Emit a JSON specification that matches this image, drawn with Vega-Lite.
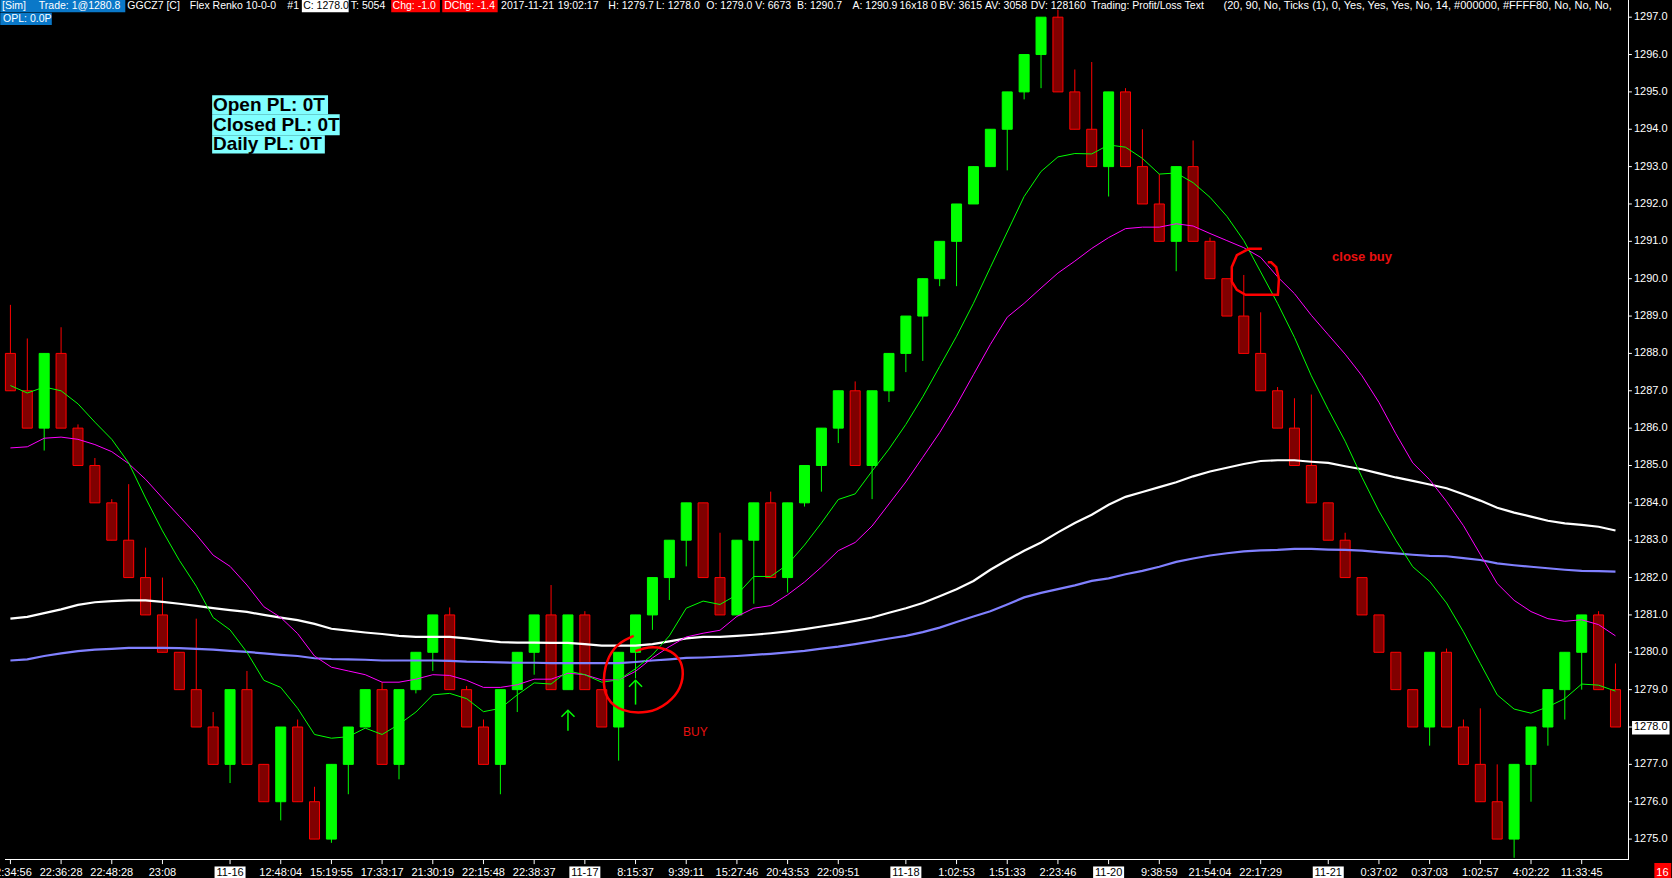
{
"$schema":"https://vega.github.io/schema/vega-lite/v6.json",
"width":1634,"height":860,
"autosize":{"type":"none"},
"padding":{"left":0,"top":0,"right":38,"bottom":18},
"background":"#000000",
"config":{"view":{"stroke":null},"font":"Liberation Sans"},
"datasets":{
"bars":[
{"i":0,"o":1288,"c":1287,"h":1289.3,"l":1287,"g":1287.14,"m":1285.47,"w":1280.9,"b":1279.78},
{"i":1,"o":1287,"c":1286,"h":1288.4,"l":1286,"g":1286.94,"m":1285.5,"w":1280.95,"b":1279.81},
{"i":2,"o":1286,"c":1288,"h":1288,"l":1285.4,"g":1287.1,"m":1285.73,"w":1281.05,"b":1279.9},
{"i":3,"o":1288,"c":1286,"h":1288.7,"l":1286,"g":1287.0,"m":1285.76,"w":1281.15,"b":1279.97},
{"i":4,"o":1286,"c":1285,"h":1286.1,"l":1285,"g":1286.65,"m":1285.7,"w":1281.27,"b":1280.03},
{"i":5,"o":1285,"c":1284,"h":1285.2,"l":1284,"g":1286.16,"m":1285.56,"w":1281.34,"b":1280.07},
{"i":6,"o":1284,"c":1283,"h":1284.1,"l":1283,"g":1285.7,"m":1285.37,"w":1281.37,"b":1280.09},
{"i":7,"o":1283,"c":1282,"h":1284.5,"l":1282,"g":1285.07,"m":1285.05,"w":1281.39,"b":1280.12},
{"i":8,"o":1282,"c":1281,"h":1282.8,"l":1281,"g":1284.13,"m":1284.63,"w":1281.39,"b":1280.12},
{"i":9,"o":1281,"c":1280,"h":1282,"l":1280,"g":1283.25,"m":1284.13,"w":1281.35,"b":1280.12},
{"i":10,"o":1280,"c":1279,"h":1280,"l":1279,"g":1282.46,"m":1283.64,"w":1281.3,"b":1280.11},
{"i":11,"o":1279,"c":1278,"h":1280.9,"l":1278,"g":1281.77,"m":1283.15,"w":1281.24,"b":1280.09},
{"i":12,"o":1278,"c":1277,"h":1278.4,"l":1277,"g":1280.93,"m":1282.6,"w":1281.18,"b":1280.07},
{"i":13,"o":1277,"c":1279,"h":1279,"l":1276.5,"g":1280.6,"m":1282.3,"w":1281.13,"b":1280.04},
{"i":14,"o":1279,"c":1277,"h":1279.5,"l":1277,"g":1280.0,"m":1281.8,"w":1281.08,"b":1280.01},
{"i":15,"o":1277,"c":1276,"h":1277,"l":1276,"g":1279.25,"m":1281.22,"w":1281.0,"b":1279.97},
{"i":16,"o":1276,"c":1278,"h":1278,"l":1275.5,"g":1279.06,"m":1280.93,"w":1280.93,"b":1279.93},
{"i":17,"o":1278,"c":1276,"h":1278.2,"l":1276,"g":1278.5,"m":1280.5,"w":1280.86,"b":1279.9},
{"i":18,"o":1276,"c":1275,"h":1276.4,"l":1275,"g":1277.8,"m":1279.9,"w":1280.76,"b":1279.84},
{"i":19,"o":1275,"c":1277,"h":1277,"l":1274.9,"g":1277.7,"m":1279.6,"w":1280.63,"b":1279.82},
{"i":20,"o":1277,"c":1278,"h":1278,"l":1276.2,"g":1277.74,"m":1279.5,"w":1280.58,"b":1279.81},
{"i":21,"o":1278,"c":1279,"h":1279,"l":1278,"g":1277.97,"m":1279.4,"w":1280.53,"b":1279.8},
{"i":22,"o":1279,"c":1277,"h":1279.2,"l":1277,"g":1277.8,"m":1279.2,"w":1280.49,"b":1279.78},
{"i":23,"o":1277,"c":1279,"h":1279,"l":1276.6,"g":1278.07,"m":1279.2,"w":1280.44,"b":1279.78},
{"i":24,"o":1279,"c":1280,"h":1280,"l":1278.9,"g":1278.4,"m":1279.28,"w":1280.41,"b":1279.78},
{"i":25,"o":1280,"c":1281,"h":1281,"l":1279.5,"g":1278.86,"m":1279.4,"w":1280.41,"b":1279.78},
{"i":26,"o":1281,"c":1279,"h":1281.2,"l":1279,"g":1278.9,"m":1279.38,"w":1280.41,"b":1279.77},
{"i":27,"o":1279,"c":1278,"h":1279.1,"l":1278,"g":1278.76,"m":1279.25,"w":1280.37,"b":1279.75},
{"i":28,"o":1278,"c":1277,"h":1278.2,"l":1277,"g":1278.41,"m":1279.06,"w":1280.32,"b":1279.74},
{"i":29,"o":1277,"c":1279,"h":1279,"l":1276.2,"g":1278.5,"m":1279.06,"w":1280.27,"b":1279.73},
{"i":30,"o":1279,"c":1280,"h":1280,"l":1278.4,"g":1278.86,"m":1279.13,"w":1280.26,"b":1279.72},
{"i":31,"o":1280,"c":1281,"h":1281,"l":1279.4,"g":1279.18,"m":1279.28,"w":1280.26,"b":1279.72},
{"i":32,"o":1281,"c":1279,"h":1281.8,"l":1279,"g":1279.15,"m":1279.28,"w":1280.25,"b":1279.71},
{"i":33,"o":1279,"c":1281,"h":1281,"l":1279,"g":1279.5,"m":1279.44,"w":1280.25,"b":1279.71},
{"i":34,"o":1281,"c":1279,"h":1281.1,"l":1279,"g":1279.4,"m":1279.4,"w":1280.22,"b":1279.71},
{"i":35,"o":1279,"c":1278,"h":1279,"l":1278,"g":1279.2,"m":1279.26,"w":1280.18,"b":1279.71},
{"i":36,"o":1278,"c":1280,"h":1280,"l":1277.1,"g":1279.26,"m":1279.26,"w":1280.18,"b":1279.71},
{"i":37,"o":1280,"c":1281,"h":1281,"l":1279.3,"g":1279.56,"m":1279.49,"w":1280.18,"b":1279.74},
{"i":38,"o":1281,"c":1282,"h":1282,"l":1280.6,"g":1279.93,"m":1279.85,"w":1280.22,"b":1279.78},
{"i":39,"o":1282,"c":1283,"h":1283,"l":1281.4,"g":1280.44,"m":1280.15,"w":1280.29,"b":1279.81},
{"i":40,"o":1283,"c":1284,"h":1284,"l":1282.3,"g":1281.18,"m":1280.41,"w":1280.37,"b":1279.85},
{"i":41,"o":1284,"c":1282,"h":1284,"l":1282,"g":1281.37,"m":1280.51,"w":1280.41,"b":1279.86},
{"i":42,"o":1282,"c":1281,"h":1283.2,"l":1281,"g":1281.28,"m":1280.59,"w":1280.41,"b":1279.88},
{"i":43,"o":1281,"c":1283,"h":1283,"l":1281,"g":1281.54,"m":1280.96,"w":1280.44,"b":1279.9},
{"i":44,"o":1283,"c":1284,"h":1284,"l":1281.3,"g":1282.03,"m":1281.18,"w":1280.47,"b":1279.93},
{"i":45,"o":1284,"c":1282,"h":1284.3,"l":1282,"g":1282.03,"m":1281.25,"w":1280.51,"b":1279.96},
{"i":46,"o":1282,"c":1284,"h":1284,"l":1281.6,"g":1282.35,"m":1281.54,"w":1280.56,"b":1280.0},
{"i":47,"o":1284,"c":1285,"h":1285,"l":1283.9,"g":1282.87,"m":1281.88,"w":1280.62,"b":1280.04},
{"i":48,"o":1285,"c":1286,"h":1286,"l":1284.3,"g":1283.46,"m":1282.28,"w":1280.69,"b":1280.1},
{"i":49,"o":1286,"c":1287,"h":1287,"l":1285.6,"g":1284.09,"m":1282.72,"w":1280.76,"b":1280.15},
{"i":50,"o":1287,"c":1285,"h":1287.25,"l":1285,"g":1284.24,"m":1282.94,"w":1280.84,"b":1280.22},
{"i":51,"o":1285,"c":1287,"h":1287,"l":1284.1,"g":1284.85,"m":1283.38,"w":1280.93,"b":1280.29},
{"i":52,"o":1287,"c":1288,"h":1288,"l":1286.7,"g":1285.44,"m":1283.97,"w":1281.06,"b":1280.37},
{"i":53,"o":1288,"c":1289,"h":1289,"l":1287.5,"g":1286.1,"m":1284.56,"w":1281.18,"b":1280.44},
{"i":54,"o":1289,"c":1290,"h":1290,"l":1287.8,"g":1286.84,"m":1285.22,"w":1281.32,"b":1280.54},
{"i":55,"o":1290,"c":1291,"h":1291,"l":1289.8,"g":1287.65,"m":1285.88,"w":1281.5,"b":1280.66},
{"i":56,"o":1291,"c":1292,"h":1292,"l":1289.8,"g":1288.46,"m":1286.62,"w":1281.69,"b":1280.81},
{"i":57,"o":1292,"c":1293,"h":1293,"l":1292,"g":1289.34,"m":1287.43,"w":1281.91,"b":1280.96},
{"i":58,"o":1293,"c":1294,"h":1294,"l":1293,"g":1290.3,"m":1288.24,"w":1282.21,"b":1281.1},
{"i":59,"o":1294,"c":1295,"h":1295,"l":1292.9,"g":1291.25,"m":1288.97,"w":1282.47,"b":1281.28},
{"i":60,"o":1295,"c":1296,"h":1296,"l":1294.8,"g":1292.2,"m":1289.34,"w":1282.72,"b":1281.47},
{"i":61,"o":1296,"c":1297,"h":1297,"l":1295.1,"g":1292.87,"m":1289.75,"w":1282.94,"b":1281.59},
{"i":62,"o":1297,"c":1295,"h":1297.2,"l":1295,"g":1293.26,"m":1290.15,"w":1283.21,"b":1281.69},
{"i":63,"o":1295,"c":1294,"h":1295.6,"l":1294,"g":1293.35,"m":1290.47,"w":1283.46,"b":1281.79},
{"i":64,"o":1294,"c":1293,"h":1295.8,"l":1293,"g":1293.34,"m":1290.81,"w":1283.68,"b":1281.91},
{"i":65,"o":1293,"c":1295,"h":1295,"l":1292.2,"g":1293.58,"m":1291.1,"w":1283.95,"b":1281.98},
{"i":66,"o":1295,"c":1293,"h":1295.1,"l":1293,"g":1293.52,"m":1291.34,"w":1284.16,"b":1282.09},
{"i":67,"o":1293,"c":1292,"h":1294,"l":1292,"g":1293.22,"m":1291.38,"w":1284.29,"b":1282.18},
{"i":68,"o":1292,"c":1291,"h":1292.8,"l":1291,"g":1292.8,"m":1291.38,"w":1284.42,"b":1282.29},
{"i":69,"o":1291,"c":1293,"h":1293,"l":1290.2,"g":1292.83,"m":1291.47,"w":1284.55,"b":1282.42},
{"i":70,"o":1293,"c":1291,"h":1293.7,"l":1291,"g":1292.57,"m":1291.41,"w":1284.71,"b":1282.51},
{"i":71,"o":1291,"c":1290,"h":1291.1,"l":1290,"g":1292.18,"m":1291.21,"w":1284.84,"b":1282.59},
{"i":72,"o":1290,"c":1289,"h":1290,"l":1289,"g":1291.67,"m":1291.02,"w":1284.94,"b":1282.65},
{"i":73,"o":1289,"c":1288,"h":1290.1,"l":1288,"g":1291.02,"m":1290.83,"w":1285.04,"b":1282.7},
{"i":74,"o":1288,"c":1287,"h":1289.1,"l":1287,"g":1290.18,"m":1290.57,"w":1285.12,"b":1282.73},
{"i":75,"o":1287,"c":1286,"h":1287.1,"l":1286,"g":1289.34,"m":1290.05,"w":1285.14,"b":1282.74},
{"i":76,"o":1286,"c":1285,"h":1286.8,"l":1285,"g":1288.43,"m":1289.6,"w":1285.14,"b":1282.77},
{"i":77,"o":1285,"c":1284,"h":1286.9,"l":1284,"g":1287.4,"m":1289.02,"w":1285.1,"b":1282.77},
{"i":78,"o":1284,"c":1283,"h":1284,"l":1283,"g":1286.5,"m":1288.5,"w":1285.07,"b":1282.75},
{"i":79,"o":1283,"c":1282,"h":1283.2,"l":1282,"g":1285.65,"m":1287.98,"w":1284.98,"b":1282.74},
{"i":80,"o":1282,"c":1281,"h":1282,"l":1281,"g":1284.68,"m":1287.4,"w":1284.9,"b":1282.72},
{"i":81,"o":1281,"c":1280,"h":1281,"l":1280,"g":1283.78,"m":1286.69,"w":1284.79,"b":1282.68},
{"i":82,"o":1280,"c":1279,"h":1280,"l":1279,"g":1283.0,"m":1285.85,"w":1284.68,"b":1282.65},
{"i":83,"o":1279,"c":1278,"h":1279,"l":1278,"g":1282.29,"m":1285.07,"w":1284.59,"b":1282.61},
{"i":84,"o":1278,"c":1280,"h":1280,"l":1277.5,"g":1281.9,"m":1284.62,"w":1284.49,"b":1282.58},
{"i":85,"o":1280,"c":1278,"h":1280.1,"l":1278,"g":1281.32,"m":1284.04,"w":1284.39,"b":1282.57},
{"i":86,"o":1278,"c":1277,"h":1278.2,"l":1277,"g":1280.55,"m":1283.39,"w":1284.23,"b":1282.52},
{"i":87,"o":1277,"c":1276,"h":1278.5,"l":1276,"g":1279.7,"m":1282.62,"w":1284.06,"b":1282.47},
{"i":88,"o":1276,"c":1275,"h":1277,"l":1275,"g":1278.86,"m":1281.84,"w":1283.87,"b":1282.38},
{"i":89,"o":1275,"c":1277,"h":1277,"l":1274.5,"g":1278.48,"m":1281.39,"w":1283.74,"b":1282.33},
{"i":90,"o":1277,"c":1278,"h":1278,"l":1276,"g":1278.37,"m":1281.09,"w":1283.63,"b":1282.29},
{"i":91,"o":1278,"c":1279,"h":1279,"l":1277.5,"g":1278.54,"m":1280.9,"w":1283.52,"b":1282.25},
{"i":92,"o":1279,"c":1280,"h":1280,"l":1278.2,"g":1278.76,"m":1280.83,"w":1283.45,"b":1282.21},
{"i":93,"o":1280,"c":1281,"h":1281,"l":1279,"g":1279.15,"m":1280.87,"w":1283.41,"b":1282.18},
{"i":94,"o":1281,"c":1279,"h":1281.1,"l":1279,"g":1279.12,"m":1280.74,"w":1283.36,"b":1282.17},
{"i":95,"o":1279,"c":1278,"h":1279.7,"l":1278,"g":1278.96,"m":1280.44,"w":1283.26,"b":1282.16}
],
"xl":[
{"i":0,"t":"22:34:56","d":false},{"i":3,"t":"22:36:28","d":false},{"i":6,"t":"22:48:28","d":false},{"i":9,"t":"23:08","d":false},
{"i":13,"t":"11-16","d":true},{"i":16,"t":"12:48:04","d":false},{"i":19,"t":"15:19:55","d":false},{"i":22,"t":"17:33:17","d":false},
{"i":25,"t":"21:30:19","d":false},{"i":28,"t":"22:15:48","d":false},{"i":31,"t":"22:38:37","d":false},{"i":34,"t":"11-17","d":true},
{"i":37,"t":"8:15:37","d":false},{"i":40,"t":"9:39:11","d":false},{"i":43,"t":"15:27:46","d":false},{"i":46,"t":"20:43:53","d":false},
{"i":49,"t":"22:09:51","d":false},{"i":53,"t":"11-18","d":true},{"i":56,"t":"1:02:53","d":false},{"i":59,"t":"1:51:33","d":false},
{"i":62,"t":"2:23:46","d":false},{"i":65,"t":"11-20","d":true},{"i":68,"t":"9:38:59","d":false},{"i":71,"t":"21:54:04","d":false},
{"i":74,"t":"22:17:29","d":false},{"i":78,"t":"11-21","d":true},{"i":81,"t":"0:37:02","d":false},{"i":84,"t":"0:37:03","d":false},
{"i":87,"t":"1:02:57","d":false},{"i":90,"t":"4:02:22","d":false},{"i":93,"t":"11:33:45","d":false}
],
"yt":[{"v":1275},{"v":1276},{"v":1277},{"v":1278},{"v":1279},{"v":1280},{"v":1281},{"v":1282},{"v":1283},{"v":1284},{"v":1285},{"v":1286},{"v":1287},{"v":1288},{"v":1289},{"v":1290},{"v":1291},{"v":1292},{"v":1293},{"v":1294},{"v":1295},{"v":1296},{"v":1297}],
"sig":[{"i":33,"lo":1277.9,"hi":1278.45},{"i":37,"lo":1278.6,"hi":1279.25}],
"buy":[
{"k":0,"i":36.89,"p":1280.44},{"k":1,"i":36.12,"p":1280.29},{"k":2,"i":35.37,"p":1279.93},{"k":3,"i":35.04,"p":1279.26},
{"k":4,"i":35.25,"p":1278.75},{"k":5,"i":36.12,"p":1278.41},{"k":6,"i":37.76,"p":1278.35},{"k":7,"i":38.95,"p":1278.63},
{"k":8,"i":39.72,"p":1279.04},{"k":9,"i":39.87,"p":1279.56},{"k":10,"i":39.5,"p":1279.93},{"k":11,"i":38.63,"p":1280.12},
{"k":12,"i":37.76,"p":1280.15},{"k":13,"i":37.0,"p":1280.03}
],
"cb":[
{"k":0,"i":74.07,"p":1290.8},{"k":1,"i":73.3,"p":1290.8},{"k":2,"i":72.59,"p":1290.63},{"k":3,"i":72.29,"p":1290.31},
{"k":4,"i":72.29,"p":1289.92},{"k":5,"i":72.59,"p":1289.7},{"k":6,"i":73.1,"p":1289.57},{"k":7,"i":75.02,"p":1289.57},
{"k":8,"i":75.08,"p":1289.99},{"k":9,"i":74.92,"p":1290.31},{"k":10,"i":74.62,"p":1290.44},{"k":11,"i":74.42,"p":1290.44}
]
},
"data":{"name":"bars"},
"layer":[
{"mark":{"type":"rule","strokeWidth":1},
 "encoding":{
  "x":{"field":"i","type":"quantitative","scale":{"domain":[-0.32,95.8],"nice":false,"zero":false},"axis":null},
  "y":{"field":"l","type":"quantitative","scale":{"domain":[1274.44,1297.46],"nice":false,"zero":false},"axis":null},
  "y2":{"field":"h"},
  "stroke":{"condition":{"test":"datum.c > datum.o","value":"#00FF00"},"value":"#FF0000"}}},
{"mark":{"type":"bar","size":10,"strokeWidth":1},
 "encoding":{
  "x":{"field":"i","type":"quantitative","axis":null},
  "y":{"field":"o","type":"quantitative","axis":null},
  "y2":{"field":"c"},
  "fill":{"condition":{"test":"datum.c > datum.o","value":"#00FF00"},"value":"#800000"},
  "stroke":{"condition":{"test":"datum.c > datum.o","value":"#00FF00"},"value":"#FF0000"}}},
{"mark":{"type":"line","stroke":"#8080FF","strokeWidth":2.2},
 "encoding":{"x":{"field":"i","type":"quantitative","axis":null},"y":{"field":"b","type":"quantitative","axis":null}}},
{"mark":{"type":"line","stroke":"#FFFFFF","strokeWidth":2.2},
 "encoding":{"x":{"field":"i","type":"quantitative","axis":null},"y":{"field":"w","type":"quantitative","axis":null}}},
{"mark":{"type":"line","stroke":"#FF00FF","strokeWidth":1},
 "encoding":{"x":{"field":"i","type":"quantitative","axis":null},"y":{"field":"m","type":"quantitative","axis":null}}},
{"mark":{"type":"line","stroke":"#00FF00","strokeWidth":1},
 "encoding":{"x":{"field":"i","type":"quantitative","axis":null},"y":{"field":"g","type":"quantitative","axis":null}}},
{"data":{"name":"sig"},"mark":{"type":"rule","stroke":"#00FF00","strokeWidth":1.5},
 "encoding":{"x":{"field":"i","type":"quantitative","axis":null},"y":{"field":"lo","type":"quantitative","axis":null},"y2":{"field":"hi"}}},
{"data":{"name":"sig"},"mark":{"type":"point","shape":"M-1,1L0,0L1,1","filled":false,"stroke":"#00FF00","strokeWidth":1.5,"size":170,"opacity":1},
 "encoding":{"x":{"field":"i","type":"quantitative","axis":null},"y":{"field":"hi","type":"quantitative","axis":null}}},
{"data":{"name":"buy"},"mark":{"type":"line","stroke":"#FF0000","strokeWidth":2.5,"interpolate":"basis"},
 "encoding":{"x":{"field":"i","type":"quantitative","axis":null},"y":{"field":"p","type":"quantitative","axis":null},"order":{"field":"k"}}},
{"data":{"name":"cb"},"mark":{"type":"line","stroke":"#FF0000","strokeWidth":2.5},
 "encoding":{"x":{"field":"i","type":"quantitative","axis":null},"y":{"field":"p","type":"quantitative","axis":null},"order":{"field":"k"}}},
{"data":{"values":[{}]},"mark":{"type":"text","fill":"#E81010","fontSize":12,"font":"Liberation Sans","align":"center","baseline":"middle"},
 "encoding":{"x":{"datum":40.54,"axis":null},"y":{"datum":1277.87,"axis":null},"text":{"value":"BUY"}}},
{"data":{"values":[{}]},"mark":{"type":"text","fill":"#E81010","fontSize":13,"fontWeight":"bold","font":"Liberation Sans","align":"center","baseline":"middle"},
 "encoding":{"x":{"datum":80.0,"axis":null},"y":{"datum":1290.57,"axis":null},"text":{"value":"close buy"}}},
{"data":{"values":[{}]},"mark":{"type":"rule","stroke":"#FFFFFF","strokeWidth":1},
 "encoding":{"x":{"datum":95.77,"axis":null},"y":{"datum":1274.44,"axis":null},"y2":{"datum":1297.46}}},
{"data":{"values":[{}]},"mark":{"type":"rule","stroke":"#FFFFFF","strokeWidth":1},
 "encoding":{"x":{"datum":-0.32,"axis":null},"x2":{"datum":95.8},"y":{"datum":1274.453,"axis":null}}},
{"data":{"name":"yt"},"mark":{"type":"rule","stroke":"#FFFFFF","strokeWidth":1},
 "encoding":{"x":{"datum":95.77,"axis":null},"x2":{"datum":95.97},"y":{"field":"v","type":"quantitative","axis":null}}},
{"data":{"name":"yt"},"mark":{"type":"text","fill":"#FFFFFF","fontSize":11,"font":"Liberation Sans","align":"left","baseline":"middle"},
 "encoding":{"x":{"datum":96.09,"axis":null},"y":{"field":"v","type":"quantitative","axis":null},"text":{"field":"v","type":"quantitative","format":".1f"}}},
{"data":{"name":"xl"},"mark":{"type":"rule","stroke":"#FFFFFF","strokeWidth":1},
 "encoding":{"x":{"field":"i","type":"quantitative","axis":null},"y":{"datum":1274.44,"axis":null},"y2":{"datum":1274.33}}},
{"data":{"values":[{}]},"mark":{"type":"rect","fill":"#0A78C8"},
 "encoding":{"x":{"datum":-0.6,"axis":null},"x2":{"datum":6.8},"y":{"datum":1297.6,"axis":null},"y2":{"datum":1297.13}}},
{"data":{"values":[{}]},"mark":{"type":"rect","fill":"#FFFFFF"},
 "encoding":{"x":{"datum":17.25,"axis":null},"x2":{"datum":20.02},"y":{"datum":1297.6,"axis":null},"y2":{"datum":1297.13}}},
{"data":{"values":[{}]},"mark":{"type":"rect","fill":"#FF0000"},
 "encoding":{"x":{"datum":22.54,"axis":null},"x2":{"datum":25.42},"y":{"datum":1297.6,"axis":null},"y2":{"datum":1297.13}}},
{"data":{"values":[{}]},"mark":{"type":"rect","fill":"#FF0000"},
 "encoding":{"x":{"datum":25.56,"axis":null},"x2":{"datum":28.84},"y":{"datum":1297.6,"axis":null},"y2":{"datum":1297.13}}},
{"data":{"values":[{}]},"mark":{"type":"rect","fill":"#0A78C8"},
 "encoding":{"x":{"datum":-0.6,"axis":null},"x2":{"datum":2.45},"y":{"datum":1297.12,"axis":null},"y2":{"datum":1296.79}}},
{"data":{"values":[{}]},"mark":{"type":"text","fill":"#FFFFFF","fontSize":10.5,"font":"Liberation Sans","align":"left","baseline":"alphabetic"},
 "encoding":{"x":{"datum":-0.494,"axis":null},"y":{"datum":1297.21,"axis":null},"text":{"value":"[Sim]"}}},
{"data":{"values":[{}]},"mark":{"type":"text","fill":"#FFFFFF","fontSize":10.5,"font":"Liberation Sans","align":"left","baseline":"alphabetic"},
 "encoding":{"x":{"datum":1.68,"axis":null},"y":{"datum":1297.21,"axis":null},"text":{"value":"Trade: 1@1280.8"}}},
{"data":{"values":[{}]},"mark":{"type":"text","fill":"#FFFFFF","fontSize":10.5,"font":"Liberation Sans","align":"left","baseline":"alphabetic"},
 "encoding":{"x":{"datum":6.92,"axis":null},"y":{"datum":1297.21,"axis":null},"text":{"value":"GGCZ7 [C]"}}},
{"data":{"values":[{}]},"mark":{"type":"text","fill":"#FFFFFF","fontSize":10.5,"font":"Liberation Sans","align":"left","baseline":"alphabetic"},
 "encoding":{"x":{"datum":10.62,"axis":null},"y":{"datum":1297.21,"axis":null},"text":{"value":"Flex Renko 10-0-0"}}},
{"data":{"values":[{}]},"mark":{"type":"text","fill":"#FFFFFF","fontSize":10.5,"font":"Liberation Sans","align":"left","baseline":"alphabetic"},
 "encoding":{"x":{"datum":16.39,"axis":null},"y":{"datum":1297.21,"axis":null},"text":{"value":"#1"}}},
{"data":{"values":[{}]},"mark":{"type":"text","fill":"#000000","fontSize":10.5,"font":"Liberation Sans","align":"left","baseline":"alphabetic"},
 "encoding":{"x":{"datum":17.33,"axis":null},"y":{"datum":1297.21,"axis":null},"text":{"value":"C: 1278.0"}}},
{"data":{"values":[{}]},"mark":{"type":"text","fill":"#FFFFFF","fontSize":10.5,"font":"Liberation Sans","align":"left","baseline":"alphabetic"},
 "encoding":{"x":{"datum":20.15,"axis":null},"y":{"datum":1297.21,"axis":null},"text":{"value":"T: 5054"}}},
{"data":{"values":[{}]},"mark":{"type":"text","fill":"#FFFFFF","fontSize":10.5,"font":"Liberation Sans","align":"left","baseline":"alphabetic"},
 "encoding":{"x":{"datum":22.62,"axis":null},"y":{"datum":1297.21,"axis":null},"text":{"value":"Chg: -1.0"}}},
{"data":{"values":[{}]},"mark":{"type":"text","fill":"#FFFFFF","fontSize":10.5,"font":"Liberation Sans","align":"left","baseline":"alphabetic"},
 "encoding":{"x":{"datum":25.68,"axis":null},"y":{"datum":1297.21,"axis":null},"text":{"value":"DChg: -1.4"}}},
{"data":{"values":[{}]},"mark":{"type":"text","fill":"#FFFFFF","fontSize":10.5,"font":"Liberation Sans","align":"left","baseline":"alphabetic"},
 "encoding":{"x":{"datum":29.04,"axis":null},"y":{"datum":1297.21,"axis":null},"text":{"value":"2017-11-21"}}},
{"data":{"values":[{}]},"mark":{"type":"text","fill":"#FFFFFF","fontSize":10.5,"font":"Liberation Sans","align":"left","baseline":"alphabetic"},
 "encoding":{"x":{"datum":32.39,"axis":null},"y":{"datum":1297.21,"axis":null},"text":{"value":"19:02:17"}}},
{"data":{"values":[{}]},"mark":{"type":"text","fill":"#FFFFFF","fontSize":10.5,"font":"Liberation Sans","align":"left","baseline":"alphabetic"},
 "encoding":{"x":{"datum":35.39,"axis":null},"y":{"datum":1297.21,"axis":null},"text":{"value":"H: 1279.7"}}},
{"data":{"values":[{}]},"mark":{"type":"text","fill":"#FFFFFF","fontSize":10.5,"font":"Liberation Sans","align":"left","baseline":"alphabetic"},
 "encoding":{"x":{"datum":38.21,"axis":null},"y":{"datum":1297.21,"axis":null},"text":{"value":"L: 1278.0"}}},
{"data":{"values":[{}]},"mark":{"type":"text","fill":"#FFFFFF","fontSize":10.5,"font":"Liberation Sans","align":"left","baseline":"alphabetic"},
 "encoding":{"x":{"datum":41.19,"axis":null},"y":{"datum":1297.21,"axis":null},"text":{"value":"O: 1279.0"}}},
{"data":{"values":[{}]},"mark":{"type":"text","fill":"#FFFFFF","fontSize":10.5,"font":"Liberation Sans","align":"left","baseline":"alphabetic"},
 "encoding":{"x":{"datum":44.09,"axis":null},"y":{"datum":1297.21,"axis":null},"text":{"value":"V: 6673"}}},
{"data":{"values":[{}]},"mark":{"type":"text","fill":"#FFFFFF","fontSize":10.5,"font":"Liberation Sans","align":"left","baseline":"alphabetic"},
 "encoding":{"x":{"datum":46.56,"axis":null},"y":{"datum":1297.21,"axis":null},"text":{"value":"B: 1290.7"}}},
{"data":{"values":[{}]},"mark":{"type":"text","fill":"#FFFFFF","fontSize":10.5,"font":"Liberation Sans","align":"left","baseline":"alphabetic"},
 "encoding":{"x":{"datum":49.84,"axis":null},"y":{"datum":1297.21,"axis":null},"text":{"value":"A: 1290.9"}}},
{"data":{"values":[{}]},"mark":{"type":"text","fill":"#FFFFFF","fontSize":10.5,"font":"Liberation Sans","align":"left","baseline":"alphabetic"},
 "encoding":{"x":{"datum":52.62,"axis":null},"y":{"datum":1297.21,"axis":null},"text":{"value":"16x18 0"}}},
{"data":{"values":[{}]},"mark":{"type":"text","fill":"#FFFFFF","fontSize":10.5,"font":"Liberation Sans","align":"left","baseline":"alphabetic"},
 "encoding":{"x":{"datum":54.97,"axis":null},"y":{"datum":1297.21,"axis":null},"text":{"value":"BV: 3615"}}},
{"data":{"values":[{}]},"mark":{"type":"text","fill":"#FFFFFF","fontSize":10.5,"font":"Liberation Sans","align":"left","baseline":"alphabetic"},
 "encoding":{"x":{"datum":57.68,"axis":null},"y":{"datum":1297.21,"axis":null},"text":{"value":"AV: 3058"}}},
{"data":{"values":[{}]},"mark":{"type":"text","fill":"#FFFFFF","fontSize":10.5,"font":"Liberation Sans","align":"left","baseline":"alphabetic"},
 "encoding":{"x":{"datum":60.39,"axis":null},"y":{"datum":1297.21,"axis":null},"text":{"value":"DV: 128160"}}},
{"data":{"values":[{}]},"mark":{"type":"text","fill":"#FFFFFF","fontSize":10.5,"font":"Liberation Sans","align":"left","baseline":"alphabetic"},
 "encoding":{"x":{"datum":63.97,"axis":null},"y":{"datum":1297.21,"axis":null},"text":{"value":"Trading: Profit/Loss Text"}}},
{"data":{"values":[{}]},"mark":{"type":"text","fill":"#FFFFFF","fontSize":11,"font":"Liberation Sans","align":"left","baseline":"alphabetic"},
 "encoding":{"x":{"datum":71.8,"axis":null},"y":{"datum":1297.21,"axis":null},"text":{"value":"(20, 90, No, Ticks (1), 0, Yes, Yes, Yes, No, 14, #000000, #FFFF80, No, No, No,"}}},
{"data":{"values":[{}]},"mark":{"type":"text","fill":"#FFFFFF","fontSize":10.5,"font":"Liberation Sans","align":"left","baseline":"alphabetic"},
 "encoding":{"x":{"datum":-0.435,"axis":null},"y":{"datum":1296.87,"axis":null},"text":{"value":"OPL: 0.0P"}}},
{"data":{"values":[{}]},"mark":{"type":"rect","fill":"#80FFFF"},
 "encoding":{"x":{"datum":11.94,"axis":null},"x2":{"datum":18.8},"y":{"datum":1294.91,"axis":null},"y2":{"datum":1294.4}}},
{"data":{"values":[{}]},"mark":{"type":"rect","fill":"#80FFFF"},
 "encoding":{"x":{"datum":11.94,"axis":null},"x2":{"datum":19.49},"y":{"datum":1294.4,"axis":null},"y2":{"datum":1293.84}}},
{"data":{"values":[{}]},"mark":{"type":"rect","fill":"#80FFFF"},
 "encoding":{"x":{"datum":11.94,"axis":null},"x2":{"datum":18.61},"y":{"datum":1293.84,"axis":null},"y2":{"datum":1293.35}}},
{"data":{"values":[{}]},"mark":{"type":"text","fill":"#000000","fontSize":19,"fontWeight":"bold","font":"Liberation Sans","align":"left","baseline":"middle"},
 "encoding":{"x":{"datum":11.99,"axis":null},"y":{"datum":1294.655,"axis":null},"text":{"value":"Open PL: 0T"}}},
{"data":{"values":[{}]},"mark":{"type":"text","fill":"#000000","fontSize":19,"fontWeight":"bold","font":"Liberation Sans","align":"left","baseline":"middle"},
 "encoding":{"x":{"datum":11.99,"axis":null},"y":{"datum":1294.12,"axis":null},"text":{"value":"Closed PL: 0T"}}},
{"data":{"values":[{}]},"mark":{"type":"text","fill":"#000000","fontSize":19,"fontWeight":"bold","font":"Liberation Sans","align":"left","baseline":"middle"},
 "encoding":{"x":{"datum":11.99,"axis":null},"y":{"datum":1293.595,"axis":null},"text":{"value":"Daily PL: 0T"}}},
{"data":{"name":"xl"},"transform":[{"filter":"datum.d"}],"mark":{"type":"point","shape":"M-1,-0.45H1V0.45H-1Z","filled":true,"fill":"#FFFFFF","strokeWidth":0,"size":961,"opacity":1},
 "encoding":{"x":{"field":"i","type":"quantitative","axis":null},"y":{"datum":1274.08,"axis":null}}},
{"data":{"name":"xl"},"mark":{"type":"text","fontSize":11,"font":"Liberation Sans","align":"center","baseline":"middle"},
 "encoding":{"x":{"field":"i","type":"quantitative","axis":null},"y":{"datum":1274.08,"axis":null},"text":{"field":"t"},
  "fill":{"condition":{"test":"datum.d","value":"#000000"},"value":"#FFFFFF"}}},
{"data":{"values":[{}]},"mark":{"type":"rect","fill":"#FFFFFF"},
 "encoding":{"x":{"datum":95.98,"axis":null},"x2":{"datum":98.2},"y":{"datum":1278.16,"axis":null},"y2":{"datum":1277.8}}},
{"data":{"values":[{}]},"mark":{"type":"text","fill":"#000000","fontSize":11,"font":"Liberation Sans","align":"left","baseline":"middle"},
 "encoding":{"x":{"datum":96.09,"axis":null},"y":{"datum":1278.0,"axis":null},"text":{"value":"1278.0"}}},
{"data":{"values":[{}]},"mark":{"type":"rect","fill":"#FF0000"},
 "encoding":{"x":{"datum":97.3,"axis":null},"x2":{"datum":98.3},"y":{"datum":1274.36,"axis":null},"y2":{"datum":1273.8}}},
{"data":{"values":[{}]},"mark":{"type":"text","fill":"#FFFFFF","fontSize":11,"font":"Liberation Sans","align":"left","baseline":"middle"},
 "encoding":{"x":{"datum":97.42,"axis":null},"y":{"datum":1274.1,"axis":null},"text":{"value":"16"}}}
]
}
